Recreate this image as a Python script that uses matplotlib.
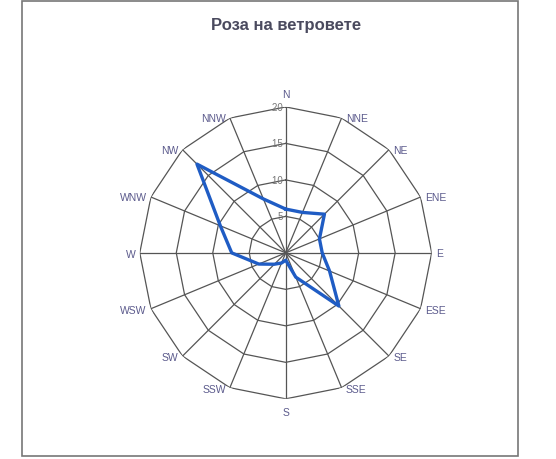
import numpy as np
import matplotlib
matplotlib.use("Agg")
import matplotlib.pyplot as plt
from matplotlib.patches import Rectangle

# посоки и стойности (прочетени от картинката)
directions = ["N", "NNE", "NE", "ENE", "E", "ESE", "SE", "SSE",
              "S", "SSW", "SW", "WSW", "W", "WNW", "NW", "NNW"]
values = [6, 6, 7.5, 5, 5, 6.5, 10.3, 3.6,
          1, 1.5, 2.2, 4, 7.4, 9.7, 17.2, 8]
rings = [5, 10, 15, 20]
title = "Роза на ветровете"

plt.rcParams['font.family'] = ['Liberation Sans', 'DejaVu Sans']

fig = plt.figure(figsize=(5.56, 4.60), dpi=100)
fig.patch.set_facecolor('white')

# рамка около диаграмата
fig.add_artist(Rectangle((0.040, 0.0065), 0.892, 0.989, transform=fig.transFigure,
                         fill=False, edgecolor='#777777', linewidth=1.2))

ax = fig.add_axes([0.2514, 0.1306, 0.525, 0.635], projection='polar')
ax.set_theta_zero_location('N')
ax.set_theta_direction(-1)
ax.set_ylim(0, 20)

ang = np.linspace(0, 2 * np.pi, len(directions), endpoint=False)
ang_c = np.append(ang, ang[0])

# мрежа - многоъгълници и лъчи
ax.grid(False)
ax.spines['polar'].set_visible(False)
for r in rings:
    ax.plot(ang_c, [r] * len(ang_c), color='#555555', lw=0.9, zorder=1)
for a in ang:
    ax.plot([a, a], [0, rings[-1]], color='#555555', lw=0.9, zorder=1)

# данни
v = np.append(values, values[0])
ax.plot(ang_c, v, color='#1f5cc4', lw=2.4, zorder=3)

ax.set_yticks([])
ax.set_xticks([])

# етикети на посоките - до върховете, както в Excel
for a, d in zip(ang, directions):
    s, c = np.sin(a), np.cos(a)
    ha = 'left' if s > 0.3 else ('right' if s < -0.3 else 'center')
    va = 'bottom' if c > 0.95 else ('top' if c < -0.95 else 'center')
    if abs(c) > 0.95:
        off = (0, 6 * np.sign(c))
    else:
        off = (3 * np.sign(s), -1 if c < 0 else 0)
    ax.annotate(d, xy=(a, rings[-1]), xytext=off, textcoords='offset points',
                ha=ha, va=va, fontsize=7.5, color='#5b5a8c',
                annotation_clip=False)

for r in rings:
    ax.text(0, r, str(r) + ' ', ha='right', va='center', fontsize=7,
            color='#777777', zorder=2)

fig.text(0.515, 0.944, title, ha='center', va='center', fontsize=12,
         fontweight='bold', color='#4a4a5e')

fig.savefig("out.png", dpi=100)
